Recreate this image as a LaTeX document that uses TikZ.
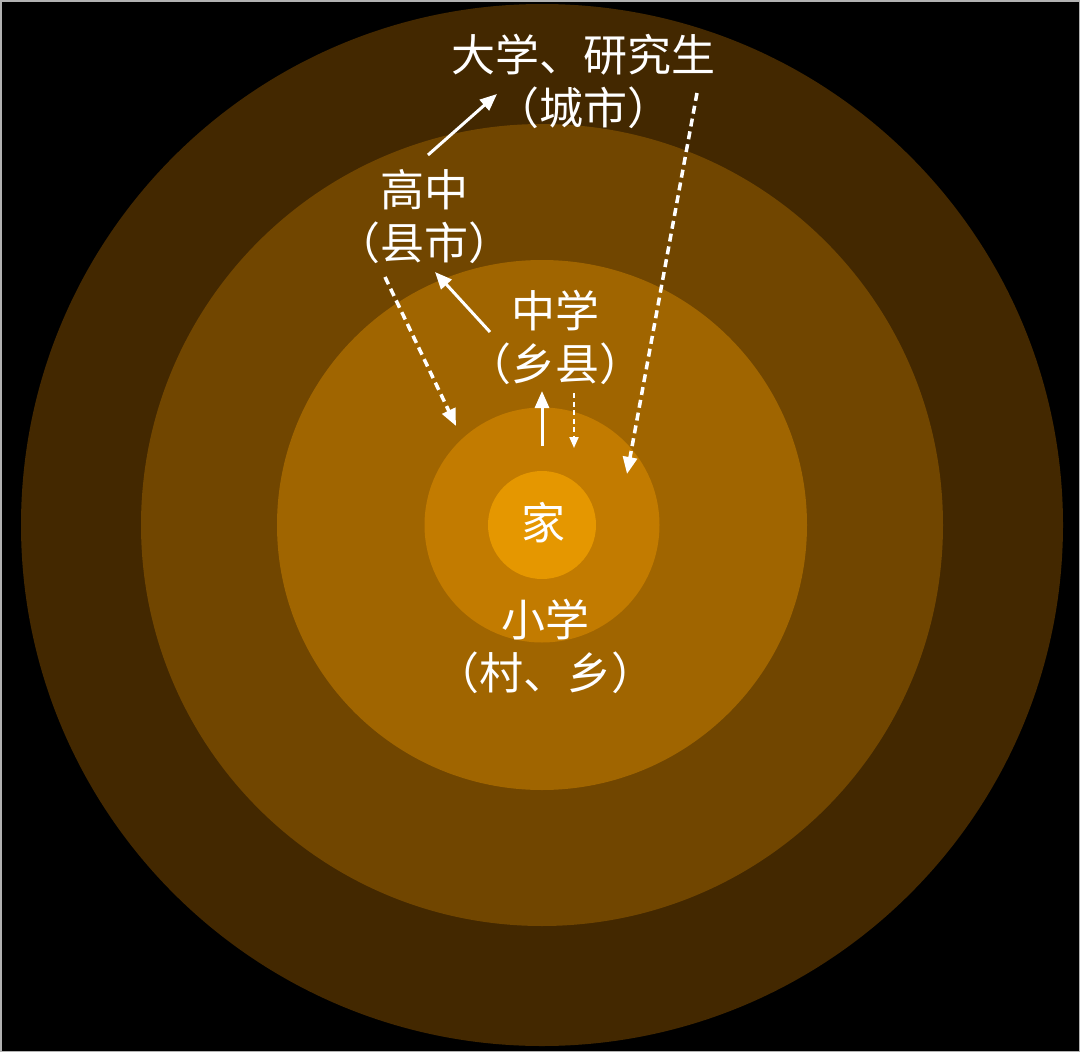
\documentclass[tikz,border=0pt]{standalone}
\usepackage{fontspec}
\newfontfamily\cjk{Noto Sans CJK SC}
\usetikzlibrary{arrows.meta}
\definecolor{ringA}{HTML}{432800}
\definecolor{ringB}{HTML}{714600}
\definecolor{ringC}{HTML}{A06500}
\definecolor{ringD}{HTML}{C27B00}
\definecolor{ringE}{HTML}{E59700}
\begin{document}
\begin{tikzpicture}[x=1pt,y=-1pt,
  ring/.style={circle,inner sep=0pt,outer sep=0pt,draw=none},
  lbl/.style={text=white,font=\cjk\fontsize{44}{53}\selectfont,align=center,inner sep=0pt},
  solidarrow/.style={white,line width=3pt,-{Triangle[length=17pt,width=14pt]}},
  dasharrow/.style={white,line width=3.5pt,dash pattern=on 8pt off 5pt,-{Triangle[length=17pt,width=14pt]}},
  smalldash/.style={white,line width=2pt,dash pattern=on 5pt off 3.5pt,-{Triangle[length=11pt,width=9pt]}}]
\useasboundingbox (0,0) rectangle (1080,1052);
\fill[black] (0,0) rectangle (1080,1052);
\draw[gray!60,line width=1.5pt] (0.75,0.75) rectangle (1079.25,1051.25);
\node[ring,fill=ringA,minimum size=1042pt] (r1) at (542,525) {};
\node[ring,fill=ringB,minimum size=802pt] (r2) at (542,525) {};
\node[ring,fill=ringC,minimum size=530pt] (r3) at (542,525) {};
\node[ring,fill=ringD,minimum size=235pt] (r4) at (542,525) {};
\node[ring,fill=ringE,minimum size=108pt] (r5) at (542,525) {};
% labels
\node[lbl] (uni) at (583,81) {大学、研究生\\（城市）};
\node[lbl] (high) at (424,217) {高中\\（县市）};
\node[lbl] (mid) at (555,337) {中学\\（乡县）};
\node[lbl] (home) at (543,523) {家};
\node[lbl] (prim) at (545,646) {小学\\（村、乡）};
% arrow endpoints
\coordinate (a1s) at (428,155);
\coordinate (a1e) at (497,94);
\coordinate (a2s) at (490,332);
\coordinate (a2e) at (435,272);
\coordinate (a3s) at (385,277);
\coordinate (a3e) at (456,426);
\coordinate (a4s) at (542,446);
\coordinate (a4e) at (542,391);
\coordinate (a5s) at (574,393);
\coordinate (a5e) at (574,448);
\coordinate (a6s) at (697,93);
\coordinate (a6e) at (627,474);
\draw[solidarrow] (a1s) -- (a1e);
\draw[solidarrow] (a2s) -- (a2e);
\draw[dasharrow] (a3s) -- (a3e);
\draw[solidarrow] (a4s) -- (a4e);
\draw[smalldash] (a5s) -- (a5e);
\draw[dasharrow] (a6s) -- (a6e);
\end{tikzpicture}
\end{document}
